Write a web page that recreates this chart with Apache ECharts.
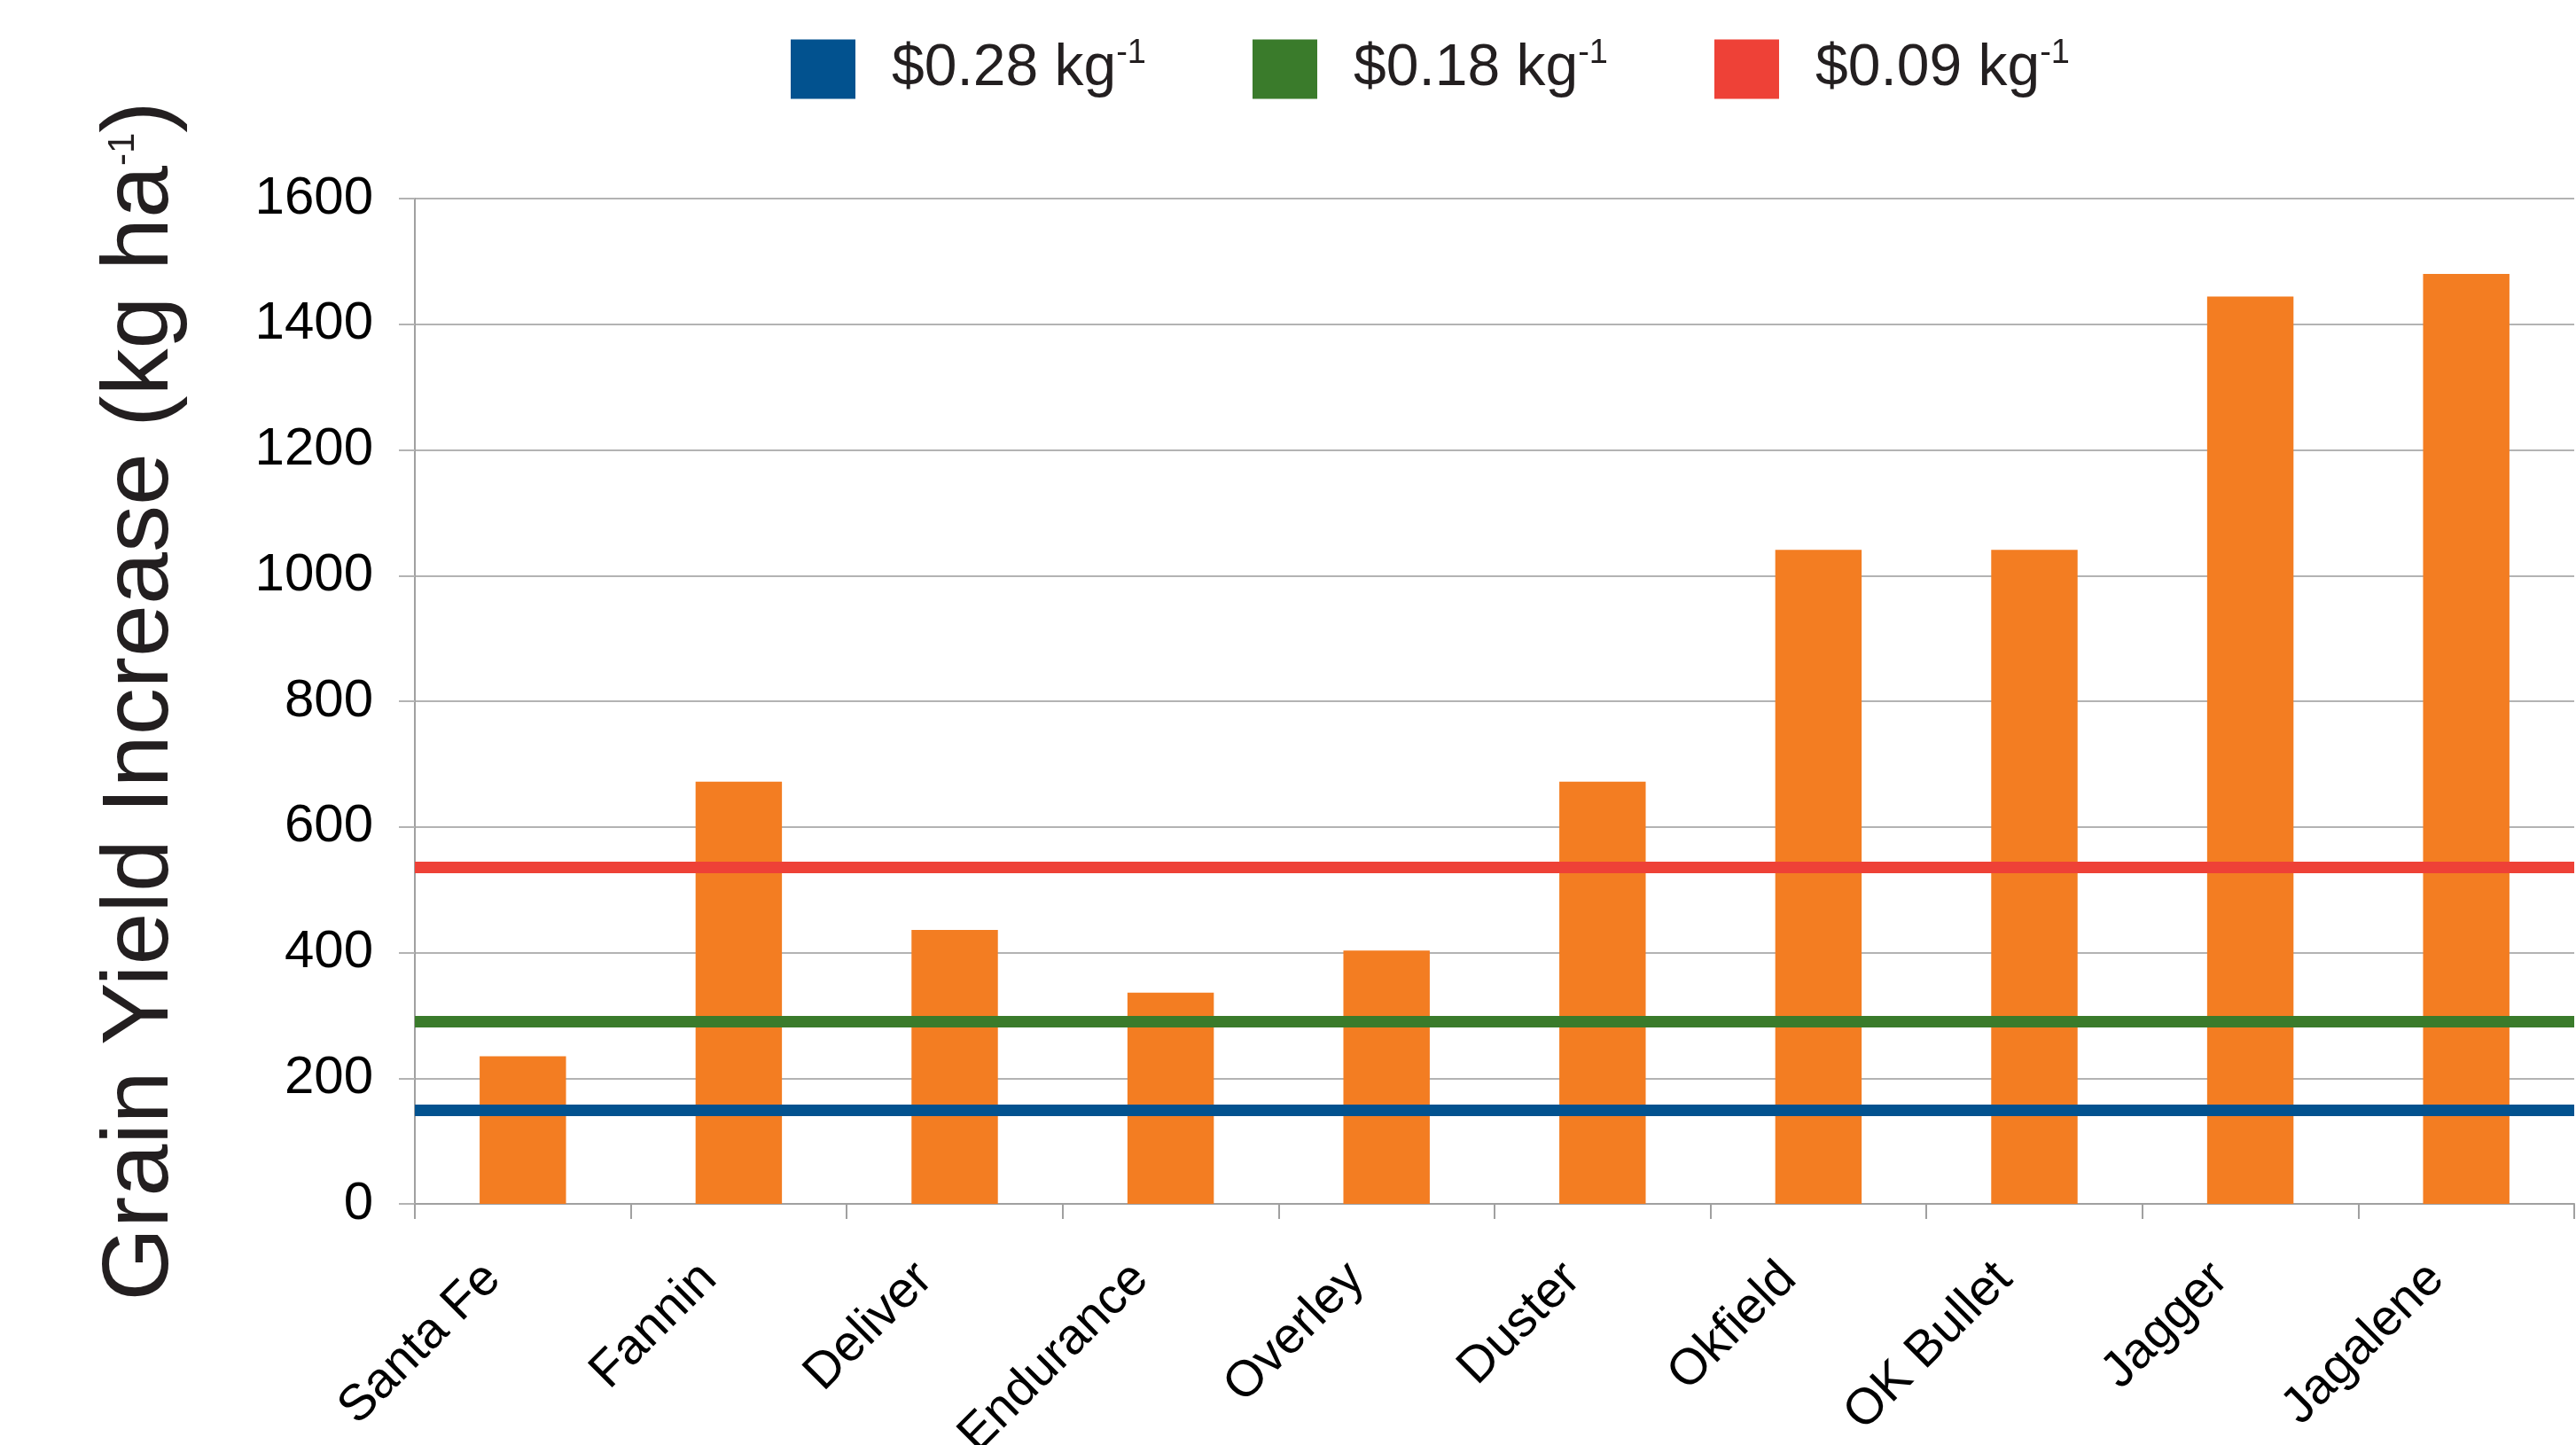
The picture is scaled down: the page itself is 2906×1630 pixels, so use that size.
<!DOCTYPE html>
<html>
<head>
<meta charset="utf-8">
<script src="https://cdn.jsdelivr.net/npm/echarts@6/dist/echarts.min.js"></script>
<style>
  html, body { margin: 0; padding: 0; background: #fff; }
  #chart { width: 2906px; height: 1630px; }
</style>
</head>
<body>
<div id="chart"></div>
<script>
// Wheat varieties and their grain yield increase (kg/ha)
const categories = ['Santa Fe', 'Fannin', 'Deliver', 'Endurance', 'Overley', 'Duster', 'Okfield', 'OK Bullet', 'Jagger', 'Jagalene'];
const yieldIncrease = [235, 672, 436, 336, 403, 672, 1041, 1041, 1444, 1480];

// Break-even yield increase at each grain price
const prices = ['$0.28', '$0.18', '$0.09'];
const breakEvenYield = [149, 291, 536];
const priceColors = ['#02528F', '#3A7B2B', '#EE4137'];

// Y axis ticks
const yMin = 0, yMax = 1600, yStep = 200;

const fontFamily = '"Liberation Sans", Arial, Helvetica, sans-serif';

const chart = echarts.init(document.getElementById('chart'), null, { renderer: 'canvas' });

const priceSeries = prices.map((p, i) => ({
  name: p,
  type: 'line',
  data: [],
  color: priceColors[i],
  itemStyle: { color: priceColors[i] },
  z: 5,
  markLine: {
    silent: true,
    symbol: 'none',
    animation: false,
    label: { show: false },
    emphasis: { disabled: true },
    lineStyle: { color: priceColors[i], width: 13, type: 'solid' },
    data: [{ yAxis: breakEvenYield[i] }]
  }
}));

const option = {
  animation: false,
  backgroundColor: '#ffffff',
  textStyle: { fontFamily: fontFamily },
  legend: {
    left: 887,
    top: 37,
    itemWidth: 73,
    itemHeight: 67,
    itemGap: 120,
    icon: 'rect',
    data: prices,
    formatter: name => '{t|' + name + ' kg}{s|-1}',
    textStyle: {
      color: '#231f20',
      padding: [0, 0, 0, 36],
      rich: {
        t: { fontSize: 66, fontFamily: fontFamily, color: '#231f20', lineHeight: 72 },
        s: { fontSize: 38, fontFamily: fontFamily, color: '#231f20', verticalAlign: 'top', lineHeight: 72 }
      }
    }
  },
  grid: {
    left: 468,
    right: 2,
    top: 224,
    bottom: 272,
    containLabel: false,
    outerBoundsMode: 'none'
  },
  xAxis: {
    type: 'category',
    data: categories,
    boundaryGap: true,
    axisLine: { show: true, lineStyle: { color: '#a0a0a0', width: 2 } },
    axisTick: { show: true, length: 17, alignWithLabel: false, interval: 0, lineStyle: { color: '#a0a0a0', width: 2 } },
    axisLabel: {
      interval: 0,
      rotate: 45,
      margin: 42,
      fontSize: 57,
      color: '#000',
      fontFamily: fontFamily,
      padding: [0, 48, 0, 0]
    },
    splitLine: { show: false }
  },
  yAxis: {
    type: 'value',
    min: yMin,
    max: yMax,
    interval: yStep,
    name: '{t|Grain Yield Increase (kg ha}{s|-1}{t|)}',
    nameLocation: 'middle',
    nameRotate: 90,
    nameGap: 252,
    nameTextStyle: {
      color: '#231f20',
      rich: {
        t: { fontSize: 106, fontFamily: fontFamily, color: '#231f20', lineHeight: 112 },
        s: { fontSize: 42, fontFamily: fontFamily, color: '#231f20', verticalAlign: 'top', lineHeight: 112, padding: [14, 0, 0, 0] }
      }
    },
    axisLine: { show: true, lineStyle: { color: '#a0a0a0', width: 2 } },
    axisTick: { show: true, length: 18, lineStyle: { color: '#b3b3b3', width: 2 } },
    axisLabel: { fontSize: 60, color: '#000', margin: 47, fontFamily: fontFamily, formatter: v => String(v) },
    splitLine: { show: true, lineStyle: { color: '#b3b3b3', width: 2 } }
  },
  series: [
    {
      name: 'Yield increase',
      type: 'bar',
      data: yieldIncrease,
      barWidth: '40%',
      itemStyle: { color: '#F37D22' },
      z: 2
    }
  ].concat(priceSeries)
};

chart.setOption(option);
</script>
</body>
</html>
